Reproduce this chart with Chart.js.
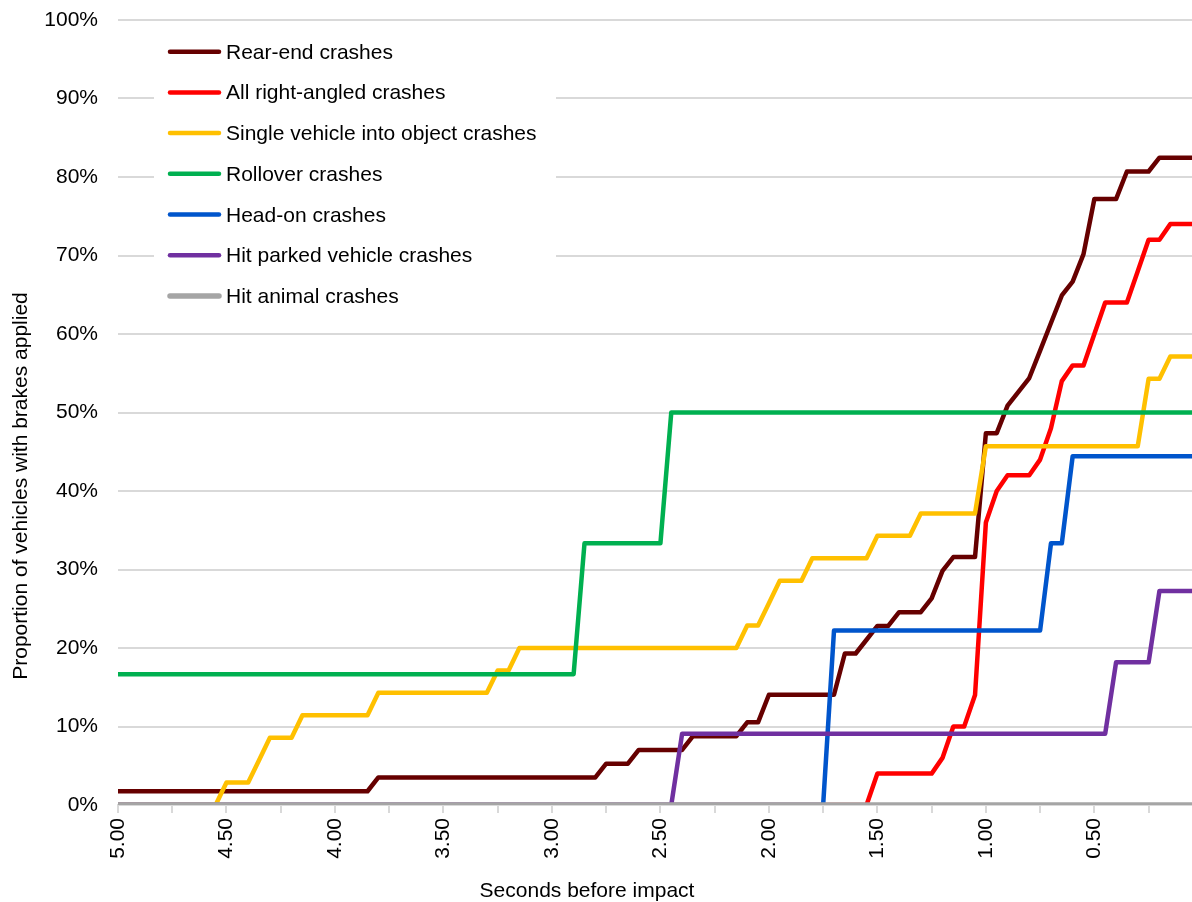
<!DOCTYPE html>
<html>
<head>
<meta charset="utf-8">
<script src="https://cdn.jsdelivr.net/npm/chart.js@4.4.1/dist/chart.umd.min.js"></script>
<style>
  html, body { margin: 0; padding: 0; background: #fff; }
  #wrap { width: 1192px; height: 902px; }
</style>
</head>
<body>
<div id="wrap"><canvas id="brakeChart" width="1192" height="902"></canvas></div>
<script>
// seconds before impact / % of vehicles with brakes applied, read at each change point
var rearEndSec = [5.00, 3.85, 3.80, 2.80, 2.75, 2.65, 2.60, 2.40, 2.35, 2.15, 2.10, 2.05, 2.00, 1.70, 1.65, 1.60, 1.55, 1.50, 1.45, 1.40, 1.30, 1.25, 1.20, 1.15, 1.05, 1.00, 0.95, 0.90, 0.85, 0.80, 0.75, 0.70, 0.65, 0.60, 0.55, 0.50, 0.40, 0.35, 0.25, 0.20, 0.05];
var rearEndPct = [1.75, 1.75, 3.51, 3.51, 5.26, 5.26, 7.02, 7.02, 8.77, 8.77, 10.53, 10.53, 14.04, 14.04, 19.30, 19.30, 21.05, 22.81, 22.81, 24.56, 24.56, 26.32, 29.82, 31.58, 31.58, 47.37, 47.37, 50.88, 52.63, 54.39, 57.89, 61.40, 64.91, 66.67, 70.18, 77.19, 77.19, 80.70, 80.70, 82.46, 82.46];

var rightAngleSec = [5.00, 1.55, 1.50, 1.25, 1.20, 1.15, 1.10, 1.05, 1.00, 0.95, 0.90, 0.80, 0.75, 0.70, 0.65, 0.60, 0.55, 0.50, 0.45, 0.35, 0.30, 0.25, 0.20, 0.15, 0.05];
var rightAnglePct = [0, 0, 4, 4, 6, 10, 10, 14, 36, 40, 42, 42, 44, 48, 54, 56, 56, 60, 64, 64, 68, 72, 72, 74, 74];

var objectSec = [5.00, 4.55, 4.50, 4.40, 4.35, 4.30, 4.20, 4.15, 3.85, 3.80, 3.30, 3.25, 3.20, 3.15, 2.15, 2.10, 2.05, 2.00, 1.95, 1.85, 1.80, 1.55, 1.50, 1.35, 1.30, 1.05, 1.00, 0.30, 0.25, 0.20, 0.15, 0.05];
var objectPct = [0, 0, 2.86, 2.86, 5.71, 8.57, 8.57, 11.43, 11.43, 14.29, 14.29, 17.14, 17.14, 20.00, 20.00, 22.86, 22.86, 25.71, 28.57, 28.57, 31.43, 31.43, 34.29, 34.29, 37.14, 37.14, 45.71, 45.71, 54.29, 54.29, 57.14, 57.14];

var rolloverSec = [5.00, 2.90, 2.85, 2.50, 2.45, 0.05];
var rolloverPct = [16.67, 16.67, 33.33, 33.33, 50, 50];

var headOnSec = [5.00, 1.75, 1.70, 0.75, 0.70, 0.65, 0.60, 0.05];
var headOnPct = [0, 0, 22.22, 22.22, 33.33, 33.33, 44.44, 44.44];

var parkedSec = [5.00, 2.45, 2.40, 0.45, 0.40, 0.25, 0.20, 0.05];
var parkedPct = [0, 0, 9.09, 9.09, 18.18, 18.18, 27.27, 27.27];

var animalSec = [5.00, 0.05];
var animalPct = [0, 0];

var seriesNames = ['Rear-end crashes', 'All right-angled crashes', 'Single vehicle into object crashes',
    'Rollover crashes', 'Head-on crashes', 'Hit parked vehicle crashes', 'Hit animal crashes'];
var seriesColors = ['#660000', '#ff0000', '#ffc000', '#00b050', '#0055cc', '#7030a0', '#a5a5a5'];

var xLabelValues = [5.0, 4.5, 4.0, 3.5, 3.0, 2.5, 2.0, 1.5, 1.0, 0.5];
var xTitle = 'Seconds before impact';
var yTitle = 'Proportion of vehicles with brakes applied';

var FONT = "'Liberation Sans', Arial, sans-serif";

function toPoints(sec, pct) {
    return sec.map(function (s, i) { return { x: s, y: pct[i] }; });
}

var seriesData = [
    toPoints(rearEndSec, rearEndPct),
    toPoints(rightAngleSec, rightAnglePct),
    toPoints(objectSec, objectPct),
    toPoints(rolloverSec, rolloverPct),
    toPoints(headOnSec, headOnPct),
    toPoints(parkedSec, parkedPct),
    toPoints(animalSec, animalPct)
];

var datasets = seriesNames.map(function (name, i) {
    return {
        label: name,
        data: seriesData[i],
        borderColor: seriesColors[i],
        backgroundColor: seriesColors[i],
        borderWidth: i === 6 ? 5.5 : 4.5,
        pointRadius: 0,
        tension: 0,
        fill: false,
        borderJoinStyle: 'round',
        order: seriesNames.length - 1 - i   // later series drawn on top
    };
});

// legend sits inside the plot, on a white box
var insideLegend = {
    id: 'insideLegend',
    beforeDatasetsDraw: function (chart) {
        var c = chart.ctx;
        c.save();
        c.fillStyle = '#ffffff';
        c.fillRect(154, 30, 402, 288);
        c.font = '21px ' + FONT;
        c.textBaseline = 'alphabetic';
        c.textAlign = 'left';
        chart.data.datasets.forEach(function (ds, i) {
            var y = 51.7 + i * 40.7;
            c.strokeStyle = ds.borderColor;
            c.lineWidth = ds.borderWidth;
            c.lineCap = 'round';
            c.beginPath();
            c.moveTo(170, y);
            c.lineTo(219, y);
            c.stroke();
            c.fillStyle = '#000000';
            c.fillText(ds.label, 226, y + 7);
        });
        c.restore();
    }
};

var axisTitles = {
    id: 'axisTitles',
    afterDraw: function (chart) {
        var c = chart.ctx;
        c.save();
        c.font = '21px ' + FONT;
        c.fillStyle = '#000000';
        c.textAlign = 'center';
        c.textBaseline = 'alphabetic';
        c.fillText(xTitle, 587, 897);
        c.translate(27, 486);
        c.rotate(-Math.PI / 2);
        c.fillText(yTitle, 0, 0);
        c.restore();
    }
};

Chart.defaults.font.family = FONT;
Chart.defaults.font.size = 21;
Chart.defaults.color = '#000000';

var ctx = document.getElementById('brakeChart').getContext('2d');
var brakeChart = new Chart(ctx, {
    type: 'line',
    data: { datasets: datasets },
    options: {
        responsive: false,
        animation: false,
        devicePixelRatio: 1,
        events: [],
        layout: { padding: { top: 20, right: 0, bottom: 0, left: 0 } },
        scales: {
            x: {
                type: 'linear',
                reverse: true,
                min: 0.05,
                max: 5,
                afterFit: function (s) { s.height = 97; },
                afterBuildTicks: function (s) {
                    s.ticks = s.ticks.filter(function (t) {
                        return t.value > 0.2 && Math.abs(t.value * 4 - Math.round(t.value * 4)) < 1e-6;
                    });
                },
                ticks: {
                    stepSize: 0.25,
                    autoSkip: false,
                    minRotation: 90,
                    maxRotation: 90,
                    padding: 5,
                    callback: function (v) {
                        var hit = xLabelValues.some(function (l) { return Math.abs(l - v) < 1e-6; });
                        return hit ? Number(v).toFixed(2) : '';
                    }
                },
                grid: { drawOnChartArea: false, drawTicks: true, tickLength: 8, color: '#d9d9d9', lineWidth: 2 },
                border: { display: true, color: '#d9d9d9', width: 2 }
            },
            y: {
                min: 0,
                max: 100,
                afterFit: function (s) {
                    s.width = 118;
                    s.paddingTop = 0;
                    s.paddingBottom = 0;
                },
                ticks: {
                    stepSize: 10,
                    padding: 20,
                    callback: function (v) { return v + '%'; }
                },
                grid: { color: '#d9d9d9', lineWidth: 2, drawTicks: false },
                border: { display: false }
            }
        },
        plugins: {
            legend: { display: false },
            tooltip: { enabled: false }
        }
    },
    plugins: [insideLegend, axisTitles]
});
</script>
</body>
</html>
